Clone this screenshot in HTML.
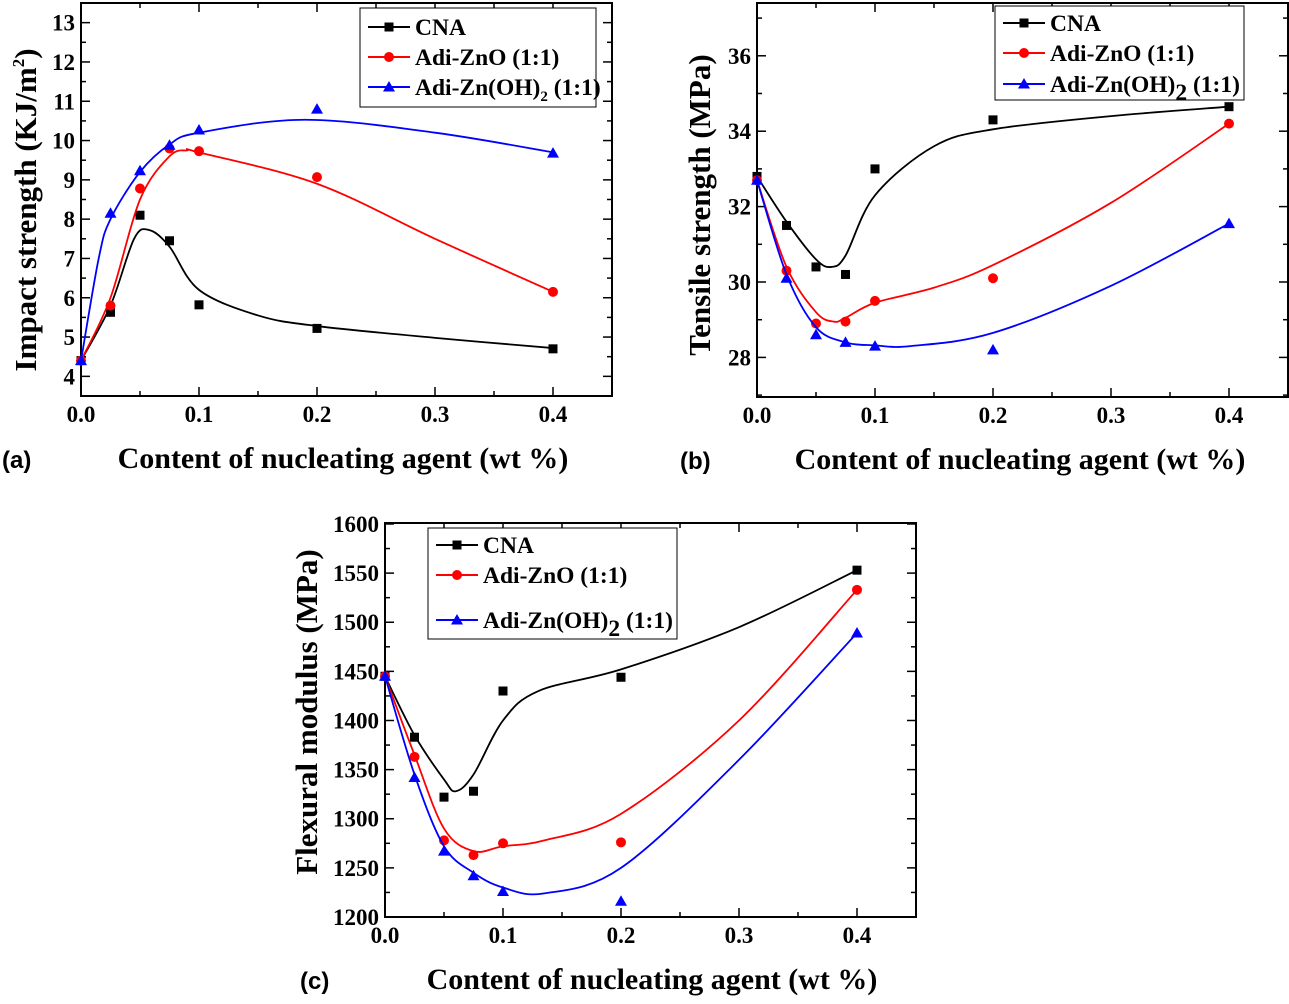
<!DOCTYPE html>
<html><head><meta charset="utf-8"><style>
body{margin:0;background:#fff}
svg text{font-family:"Liberation Serif",serif;font-weight:bold}
.lab{font-family:"Liberation Sans",sans-serif}
</style></head><body>
<svg id="fig" width="1289" height="999" viewBox="0 0 1289 999" xmlns="http://www.w3.org/2000/svg"></svg>
<script>
const xsPts=[0,0.025,0.05,0.075,0.1,0.2,0.4];
const xTicks=[0,0.1,0.2,0.3,0.4];
const xTickLabels=["0.0","0.1","0.2","0.3","0.4"];
// panel a
const aCNA=[4.4,5.63,8.1,7.45,5.82,5.22,4.7];
const aZnO=[4.4,5.8,8.78,9.8,9.73,9.07,6.15];
const aOH=[4.4,8.15,9.23,9.88,10.27,10.8,9.68];
const aFitCNAx=[0,0.025,0.045,0.058,0.075,0.1,0.15,0.2,0.3,0.4];
const aFitCNAy=[4.4,5.8,7.5,7.72,7.3,6.2,5.55,5.28,4.98,4.72];
const aFitZnOx=[0,0.025,0.05,0.075,0.09,0.1,0.2,0.3,0.4];
const aFitZnOy=[4.4,6.0,8.5,9.6,9.75,9.7,8.9,7.5,6.15];
const aFitOHx=[0,0.015,0.025,0.05,0.075,0.1,0.19,0.3,0.4];
const aFitOHy=[4.4,7.0,8.0,9.2,9.9,10.2,10.53,10.2,9.7];
const aYTicks=[4,5,6,7,8,9,10,11,12,13];
// panel b
const bCNA=[32.8,31.5,30.4,30.2,33.0,34.3,34.65];
const bZnO=[32.7,30.3,28.9,28.95,29.5,30.1,34.2];
const bOH=[32.7,30.1,28.6,28.4,28.3,28.2,31.55];
const bFitCNAx=[0,0.025,0.05,0.063,0.075,0.1,0.15,0.2,0.3,0.4];
const bFitCNAy=[32.8,31.6,30.6,30.4,30.7,32.3,33.6,34.05,34.4,34.65];
const bFitZnOx=[0,0.025,0.05,0.065,0.075,0.1,0.15,0.2,0.3,0.4];
const bFitZnOy=[32.7,30.4,29.2,28.95,29.05,29.45,29.85,30.45,32.1,34.2];
const bFitOHx=[0,0.025,0.05,0.075,0.1,0.13,0.2,0.3,0.4];
const bFitOHy=[32.7,30.2,28.8,28.4,28.32,28.3,28.65,29.9,31.55];
const bYTicks=[28,30,32,34,36];
// panel c
const cCNA=[1445,1383,1322,1328,1430,1444,1553];
const cZnO=[1445,1363,1278,1263,1275,1276,1533];
const cOH=[1445,1342,1267,1242,1226,1216,1489];
const cFitCNAx=[0,0.025,0.05,0.06,0.075,0.1,0.13,0.2,0.3,0.4];
const cFitCNAy=[1445,1385,1340,1328,1345,1400,1430,1452,1495,1553];
const cFitZnOx=[0,0.025,0.05,0.075,0.1,0.135,0.2,0.3,0.4];
const cFitZnOy=[1445,1365,1290,1267,1272,1278,1305,1400,1533];
const cFitOHx=[0,0.025,0.05,0.075,0.1,0.135,0.2,0.3,0.4];
const cFitOHy=[1445,1345,1272,1245,1230,1224,1250,1360,1489];
const cYTicks=[1200,1250,1300,1350,1400,1450,1500,1550,1600];

const NS="http://www.w3.org/2000/svg";
const svg=document.getElementById('fig');
function mk(tag,attrs,parent,name){const e=document.createElementNS(NS,tag);for(const k in attrs)e.setAttribute(k,attrs[k]);


(parent||svg).appendChild(e);return e;}
function spline(pts){let d=`M${pts[0][0]},${pts[0][1]}`;for(let i=0;i<pts.length-1;i++){const p0=pts[Math.max(i-1,0)],p1=pts[i],p2=pts[i+1],p3=pts[Math.min(i+2,pts.length-1)];
const c1=[p1[0]+(p2[0]-p0[0])/6,p1[1]+(p2[1]-p0[1])/6],c2=[p2[0]-(p3[0]-p1[0])/6,p2[1]-(p3[1]-p1[1])/6];
d+=`C${c1[0]},${c1[1]} ${c2[0]},${c2[1]} ${p2[0]},${p2[1]}`;}return d;}
function marker(g,type,x,y,col,name){
 if(type==='sq')mk('rect',{x:x-4.5,y:y-4.5,width:9,height:9,fill:col},g,name);
 else if(type==='ci')mk('circle',{cx:x,cy:y,r:5,fill:col},g,name);
 else mk('polygon',{points:`${x},${y-6} ${x+6},${y+4.5} ${x-6},${y+4.5}`,fill:col},g,name);
}
function panel(P){
 const g=mk('g',{},svg,P.name);
 const sx=v=>P.x0+(v-0)*(P.x1-P.x0)/0.45;
 const sy=v=>P.yb-(v-P.ymin)*(P.yb-P.yt)/(P.ymax-P.ymin);
 mk('rect',{x:P.x0,y:P.yt,width:P.x1-P.x0,height:P.yb-P.yt,fill:'none',stroke:'#000','stroke-width':2},g,'plot-frame');
 for(let i=0;i<=9;i++){const v=i*0.05,x=sx(v);const L=i%2?5:9;
  mk('line',{x1:x,y1:P.yb,x2:x,y2:P.yb-L,stroke:'#000','stroke-width':1.5},g,'x-tick');
  mk('line',{x1:x,y1:P.yt,x2:x,y2:P.yt+L,stroke:'#000','stroke-width':1.5},g,'x-tick-top');}
 xTicks.forEach((v,i)=>{const t=mk('text',{x:sx(v),y:P.yb+26,'text-anchor':'middle','font-size':23},g,'x-tick-label');t.textContent=xTickLabels[i];});
 const yt=P.yTicks,step=yt[1]-yt[0];
 for(let k=0;k<yt.length*2+1;k++){const v=yt[0]+(k-1)*step/2;if(v<P.ymin||v>P.ymax)continue;const y=sy(v);const L=(k%2)?9:5;
  mk('line',{x1:P.x0,y1:y,x2:P.x0+L,y2:y,stroke:'#000','stroke-width':1.5},g,'y-tick');
  mk('line',{x1:P.x1,y1:y,x2:P.x1-L,y2:y,stroke:'#000','stroke-width':1.5},g,'y-tick-right');}
 yt.forEach(v=>{const t=mk('text',{x:P.x0-6,y:sy(v)+8,'text-anchor':'end','font-size':23},g,'y-tick-label');t.textContent=String(v);});
 const cols=['#000','#f00','#00f'],types=['sq','ci','tr'],names=['cna','adi-zno','adi-znoh2'];
 P.series.forEach((s,i)=>{
  const pts=s.fx.map((x,j)=>[sx(x),sy(s.fy[j])]);
  mk('path',{d:spline(pts),fill:'none',stroke:cols[i],'stroke-width':1.8},g,names[i]+'-fit-curve');
  xsPts.forEach((x,j)=>marker(g,types[i],sx(x),sy(s.y[j]),cols[i],names[i]+'-point'));
 });
 const t=mk('text',{x:P.xt,y:P.ytitle,'text-anchor':'middle','font-size':31,transform:`rotate(-90 ${P.xt} ${P.ytitle})`},g,'y-axis-title');t.innerHTML=P.ylabel;
 const xl=mk('text',{x:P.xlabX,y:P.yb+72,'text-anchor':'middle','font-size':30},g,'x-axis-title');xl.textContent='Content of nucleating agent (wt %)';
 const pl=mk('text',{x:P.plX,y:P.yb+72,'font-size':24,class:'lab'},g,'panel-label');pl.textContent=P.pl;
 const L=P.leg;const lg=mk('g',{},g,'legend');
 mk('rect',{x:L.x,y:L.y,width:L.w,height:L.h,fill:'#fff',stroke:'#000','stroke-width':1},lg,'legend-box');
 const labels=['CNA','Adi-ZnO (1:1)',P.ohLabel];
 L.rows.forEach((ry,i)=>{
  mk('line',{x1:L.x+8,y1:ry,x2:L.x+50,y2:ry,stroke:cols[i],'stroke-width':2},lg,'legend-line');
  marker(lg,types[i],L.x+29,ry,cols[i],'legend-marker');
  const tx=mk('text',{x:L.x+55,y:ry+8,'font-size':23.5},lg,'legend-label');tx.innerHTML=labels[i];
 });
}
panel({name:'panel-a',x0:81,x1:612,yt:3,yb:396,ymin:3.5,ymax:13.5,yTicks:aYTicks,xt:36,ytitle:210,
 ylabel:'Impact strength (KJ/m<tspan font-size="17" dy="-12">2</tspan><tspan dy="12">)</tspan>',xlabX:343,plX:2,pl:'(a)',
 ohLabel:'Adi-Zn(OH)<tspan font-size="15" dy="6">2</tspan><tspan dy="-6"> (1:1)</tspan>',
 leg:{x:360,y:8,w:236,h:99,rows:[27,57,87]},
 series:[{y:aCNA,fx:aFitCNAx,fy:aFitCNAy},{y:aZnO,fx:aFitZnOx,fy:aFitZnOy},{y:aOH,fx:aFitOHx,fy:aFitOHy}]});
panel({name:'panel-b',x0:757,x1:1288,yt:3,yb:397,ymin:26.95,ymax:37.4,yTicks:bYTicks,xt:710,ytitle:205,
 ylabel:'Tensile strength (MPa)',xlabX:1020,plX:680,pl:'(b)',
 ohLabel:'Adi-Zn(OH)<tspan dy="8">2</tspan><tspan dy="-8"> (1:1)</tspan>',
 leg:{x:995,y:6,w:249,h:94,rows:[23,53,84]},
 series:[{y:bCNA,fx:bFitCNAx,fy:bFitCNAy},{y:bZnO,fx:bFitZnOx,fy:bFitZnOy},{y:bOH,fx:bFitOHx,fy:bFitOHy}]});
panel({name:'panel-c',x0:385,x1:916,yt:523,yb:917,ymin:1200,ymax:1601,yTicks:cYTicks,xt:317,ytitle:712,
 ylabel:'Flexural modulus (MPa)',xlabX:652,plX:300,pl:'(c)',
 ohLabel:'Adi-Zn(OH)<tspan dy="8">2</tspan><tspan dy="-8">  (1:1)</tspan>',
 leg:{x:428,y:528,w:249,h:111,rows:[545,575,620]},
 series:[{y:cCNA,fx:cFitCNAx,fy:cFitCNAy},{y:cZnO,fx:cFitZnOx,fy:cFitZnOy},{y:cOH,fx:cFitOHx,fy:cFitOHy}]});
</script>
</body></html>
